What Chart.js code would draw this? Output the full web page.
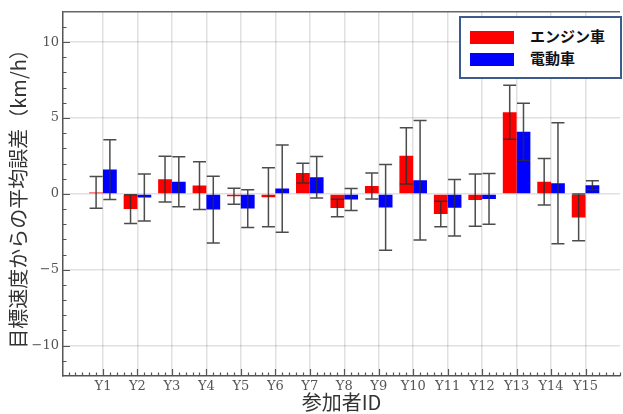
<!DOCTYPE html>
<html>
<head>
<meta charset="utf-8">
<script src="https://cdn.jsdelivr.net/npm/chart.js@4"></script>
<style>
  html, body { margin: 0; padding: 0; background: #fff; }
  #wrap { position: relative; width: 623px; height: 414px; }
  #legend {
    position: absolute; left: 459px; top: 16px; width: 159px; height: 59px;
    border: 2px solid #3d5b8c; background: #fff;
    font-family: "Noto Sans CJK JP", sans-serif; font-weight: bold; font-size: 15px; color: #111;
  }
  .row { position: absolute; left: 9px; height: 14px; line-height: 14px; }
  .sw { display: inline-block; width: 44px; height: 13px; vertical-align: top; }
  .lb { position: absolute; left: 60px; top: -2px; white-space: nowrap; }
</style>
</head>
<body>
<div id="wrap">
  <canvas id="chart" width="623" height="414"></canvas>
  <div id="legend">
    <div class="row" style="top:13px"><span class="sw" style="background:#ff0000"></span><span class="lb">エンジン車</span></div>
    <div class="row" style="top:35px"><span class="sw" style="background:#0000ff"></span><span class="lb">電動車</span></div>
  </div>
</div>
<script>
const ctx = document.getElementById('chart').getContext('2d');

// 参加者
const participants = ['Y1', 'Y2', 'Y3', 'Y4', 'Y5', 'Y6', 'Y7', 'Y8', 'Y9', 'Y10', 'Y11', 'Y12', 'Y13', 'Y14', 'Y15'];

// 平均誤差と標準偏差 (km/h)
const engineMean = [0.1, -1.0, 0.97, 0.55, -0.15, -0.22, 1.37, -0.93, 0.52, 2.51, -1.32, -0.41, 5.38, 0.8, -1.55];
const engineErr = [1.05, 0.95, 1.51, 1.57, 0.53, 1.94, 0.65, 0.58, 0.85, 1.85, 0.84, 1.72, 1.78, 1.53, 1.54];
const evMean = [1.6, -0.24, 0.8, -1.03, -0.97, 0.35, 1.1, -0.37, -0.89, 0.9, -0.91, -0.33, 4.09, 0.7, 0.57];
const evErr = [1.97, 1.55, 1.65, 2.2, 1.25, 2.87, 1.37, 0.72, 2.83, 3.93, 1.86, 1.67, 1.89, 3.99, 0.3];

const X_MIN = -0.16, X_MAX = 16;
const Y_MIN = -12, Y_MAX = 12;

const toPoints = arr => arr.map((v, i) => ({ x: i + 1, y: v }));

// エラーバーと内向きの目盛り
const extras = {
    id: 'extras',
    afterDatasetsDraw(chart) {
        const c = chart.ctx;
        const ys = chart.scales.y;
        const errs = [engineErr, evErr];
        c.save();
        c.strokeStyle = 'rgba(45,45,45,0.85)';
        c.lineWidth = 1.5;
        chart.data.datasets.forEach((ds, di) => {
            const meta = chart.getDatasetMeta(di);
            meta.data.forEach((bar, i) => {
                const v = ds.data[i].y;
                const e = errs[di][i];
                const top = ys.getPixelForValue(v + e);
                const bot = ys.getPixelForValue(v - e);
                const x = bar.x;
                c.beginPath();
                c.moveTo(x, top); c.lineTo(x, bot);
                c.moveTo(x - 6.5, top); c.lineTo(x + 6.5, top);
                c.moveTo(x - 6.5, bot); c.lineTo(x + 6.5, bot);
                c.stroke();
            });
        });
        c.restore();
    },
    afterDraw(chart) {
        const c = chart.ctx;
        const xs = chart.scales.x, ys = chart.scales.y;
        const a = chart.chartArea;
        c.save();
        c.strokeStyle = '#555';
        c.lineWidth = 1.2;
        c.beginPath();
        for (let k = 0; k <= 80; k++) {
            const v = k / 5;
            const major = k % 5 === 0 && v >= 1 && v <= 15;
            const px = Math.round(xs.getPixelForValue(v)) + 0.5;
            c.moveTo(px, a.bottom);
            c.lineTo(px, a.bottom - (major ? 7 : 3.5));
        }
        for (let v = Y_MIN + 1; v < Y_MAX; v++) {
            const major = v % 5 === 0;
            const py = Math.round(ys.getPixelForValue(v)) + 0.5;
            c.moveTo(a.left, py);
            c.lineTo(a.left + (major ? 7 : 3.5), py);
        }
        c.stroke();
        // 上の枠線
        c.strokeStyle = '#666';
        c.lineWidth = 1.5;
        c.beginPath();
        c.moveTo(a.left, a.top);
        c.lineTo(a.right, a.top);
        c.stroke();
        c.restore();
    }
};

const tickFont = { family: '"DejaVu Serif", serif', size: 13 };

new Chart(ctx, {
    type: 'bar',
    data: {
        datasets: [
            { label: 'エンジン車', data: toPoints(engineMean), backgroundColor: '#ff0000', borderWidth: 0 },
            { label: '電動車', data: toPoints(evMean), backgroundColor: '#0000ff', borderWidth: 0 }
        ]
    },
    options: {
        responsive: false,
        animation: false,
        events: [],
        categoryPercentage: 0.8,
        barPercentage: 1.0,
        layout: { padding: { top: 10, right: 0, left: 0, bottom: 0 } },
        plugins: { legend: { display: false }, tooltip: { enabled: false } },
        scales: {
            x: {
                type: 'linear',
                min: X_MIN,
                max: X_MAX,
                offset: false,
                grid: {
                    offset: false,
                    drawTicks: false,
                    lineWidth: 1.5,
                    color: c => (c.tick && c.tick.value >= 1 && c.tick.value <= 15) ? 'rgba(0,0,0,0.12)' : 'rgba(0,0,0,0)'
                },
                border: { display: true, color: '#555', width: 1.5 },
                ticks: {
                    stepSize: 1,
                    includeBounds: false,
                    autoSkip: false,
                    maxRotation: 0,
                    padding: 3,
                    color: '#555',
                    font: tickFont,
                    callback: v => (v >= 1 && v <= 15) ? participants[v - 1] : ''
                },
                title: {
                    display: true,
                    text: '参加者ID',
                    color: '#333',
                    font: { family: '"Noto Sans CJK JP", sans-serif', size: 20 },
                    padding: { top: 0, bottom: 0 }
                },
                afterFit: s => { s.height = 38; }
            },
            y: {
                min: Y_MIN,
                max: Y_MAX,
                grid: {
                    drawTicks: false,
                    lineWidth: 1.5,
                    color: 'rgba(0,0,0,0.12)'
                },
                border: { display: true, color: '#555', width: 1.5 },
                ticks: {
                    stepSize: 5,
                    includeBounds: false,
                    padding: 4,
                    color: '#555',
                    font: tickFont,
                    callback: v => v < 0 ? '\u2212' + Math.abs(v) : String(v)
                },
                title: {
                    display: true,
                    text: '目標速度からの平均誤差（km/h）',
                    color: '#333',
                    font: { family: '"Noto Sans CJK JP", sans-serif', size: 20 },
                    padding: { top: 6, bottom: 0 }
                },
                afterFit: s => { s.width = 63; }
            }
        }
    },
    plugins: [extras]
});
</script>
</body>
</html>
